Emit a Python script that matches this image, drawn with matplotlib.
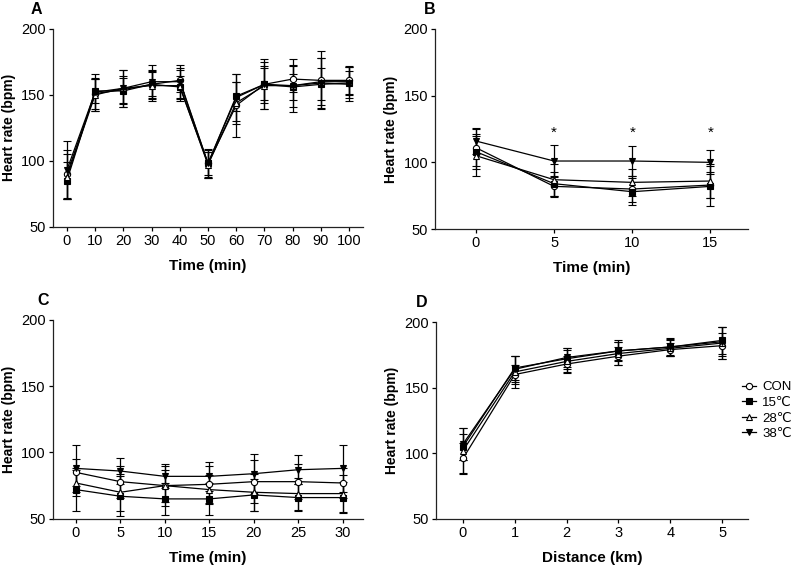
import matplotlib
matplotlib.use("Agg")
import matplotlib.pyplot as plt
from matplotlib.lines import Line2D

plt.rcParams["font.family"] = ["Liberation Sans", "DejaVu Sans"]

# DATA
groups = ["CON", "15℃", "28℃", "38℃"]

a_x = [0, 10, 20, 30, 40, 50, 60, 70, 80, 90, 100]
a_mean = {
    "CON": [90, 151, 154, 158, 161, 98, 142, 158, 162, 161, 161],
    "15℃": [85, 153, 153, 158, 156, 98, 149, 158, 156, 158, 159],
    "28℃": [88, 150, 155, 157, 157, 97, 144, 157, 157, 160, 160],
    "38℃": [93, 152, 155, 160, 160, 98, 148, 158, 157, 159, 158],
}
a_sd = {
    "CON": [18, 12, 10, 10, 9, 9, 24, 14, 10, 22, 10],
    "15℃": [14, 9, 10, 9, 8, 11, 11, 12, 10, 12, 9],
    "28℃": [17, 12, 14, 12, 12, 10, 16, 18, 16, 18, 12],
    "38℃": [22, 14, 14, 13, 13, 10, 18, 19, 20, 19, 13],
}

b_x = [0, 5, 10, 15]
b_mean = {
    "CON": [111, 82, 80, 83],
    "15℃": [108, 84, 78, 82],
    "28℃": [105, 87, 85, 86],
    "38℃": [116, 101, 101, 100],
}
b_sd = {
    "CON": [14, 8, 10, 10],
    "15℃": [13, 9, 10, 15],
    "28℃": [15, 12, 10, 13],
    "38℃": [10, 12, 11, 9],
}
b_star = 122

c_x = [0, 5, 10, 15, 20, 25, 30]
c_mean = {
    "CON": [85, 78, 75, 76, 78, 78, 77],
    "15℃": [72, 67, 65, 65, 68, 66, 66],
    "28℃": [77, 70, 75, 72, 70, 69, 69],
    "38℃": [88, 86, 82, 82, 84, 87, 88],
}
c_sd = {
    "CON": [10, 12, 15, 14, 16, 13, 11],
    "15℃": [16, 15, 12, 12, 12, 10, 12],
    "28℃": [10, 14, 12, 11, 14, 12, 14],
    "38℃": [18, 10, 9, 11, 15, 11, 18],
}

d_x = [0, 1, 2, 3, 4, 5]
d_mean = {
    "CON": [96, 160, 168, 174, 179, 182],
    "15℃": [105, 165, 172, 178, 181, 186],
    "28℃": [102, 162, 170, 176, 180, 184],
    "38℃": [107, 164, 173, 178, 181, 185],
}
d_sd = {
    "CON": [12, 7, 6, 7, 5, 10],
    "15℃": [10, 9, 8, 8, 7, 10],
    "28℃": [17, 12, 9, 9, 6, 12],
    "38℃": [12, 10, 7, 7, 6, 11],
}

styles = {
    "CON": dict(marker="o", mfc="white"),
    "15℃": dict(marker="s", mfc="black"),
    "28℃": dict(marker="^", mfc="white"),
    "38℃": dict(marker="v", mfc="black"),
}

fig = plt.figure(figsize=(8, 5.67), dpi=100)
axA = fig.add_axes([0.066, 0.600, 0.388, 0.349])
axB = fig.add_axes([0.544, 0.596, 0.391, 0.353])
axC = fig.add_axes([0.066, 0.085, 0.388, 0.351])
axD = fig.add_axes([0.545, 0.085, 0.390, 0.347])


def draw(ax, x, means, sds, xlim, xlabel, letter, letter_x):
    for g in groups:
        ax.errorbar(x, means[g], yerr=sds[g], color="black", lw=0.9,
                    elinewidth=0.9, capsize=3, capthick=0.9,
                    ms=4.5, mec="black", mew=0.8, label=g, **styles[g])
    ax.set_xlim(*xlim)
    ax.set_ylim(50, 200)
    ax.set_xticks(x)
    ax.set_yticks([50, 100, 150, 200])
    for s in ["top", "right"]:
        ax.spines[s].set_visible(False)
    for s in ["left", "bottom"]:
        ax.spines[s].set_linewidth(0.9)
        ax.spines[s].set_color("#222222")
    ax.tick_params(labelsize=10.5, length=3, width=0.9, pad=2)
    ax.set_ylabel("Heart rate (bpm)", fontsize=10, fontweight="bold", labelpad=4)
    ax.set_xlabel(xlabel, fontsize=11, fontweight="bold", labelpad=8)
    ax.text(letter_x, 1.06, letter, transform=ax.transAxes, fontsize=11.5,
            fontweight="bold", ha="left", va="bottom")


draw(axA, a_x, a_mean, a_sd, (-5, 105), "Time (min)", "A", -0.07)
draw(axB, b_x, b_mean, b_sd, (-2.6, 17.4), "Time (min)", "B", -0.035)
draw(axC, c_x, c_mean, c_sd, (-2.6, 32.3), "Time (min)", "C", -0.05)
draw(axD, d_x, d_mean, d_sd, (-0.52, 5.5), "Distance (km)", "D", -0.065)

for xi in b_x[1:]:
    axB.text(xi, b_star, "*", ha="center", va="center", fontsize=11)

handles = [Line2D([], [], color="black", lw=0.9, ms=4.5, mec="black", mew=0.8,
                  **styles[g]) for g in groups]
axD.legend(handles, groups, loc="center left", bbox_to_anchor=(0.982, 0.55),
           frameon=False, fontsize=9.5, handlelength=1.0, handletextpad=0.5,
           labelspacing=0.25, borderaxespad=0, borderpad=0)

fig.savefig("out.png", dpi=100)
